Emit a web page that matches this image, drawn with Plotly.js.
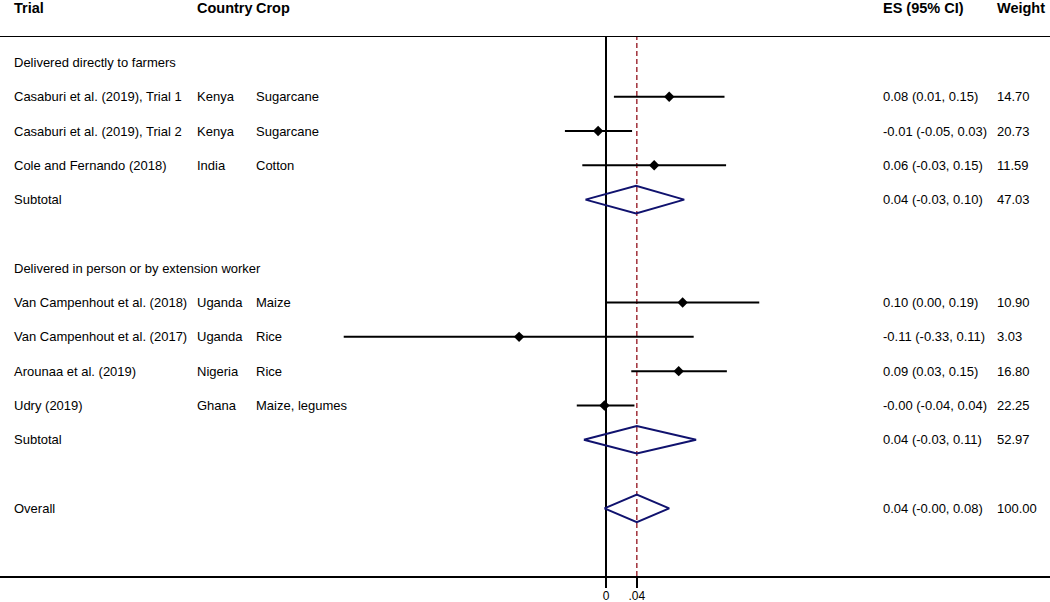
<!DOCTYPE html>
<html>
<head>
<meta charset="utf-8">
<script src="https://cdn.plot.ly/plotly-3.0.1.min.js"></script>
<style>html,body{margin:0;padding:0;background:#fff}</style>
</head>
<body>
<div id="chart" style="width:1050px;height:602px"></div>
<script>
// ---------------- data ----------------
var groupNames = ['Delivered directly to farmers', 'Delivered in person or by extension worker'];
var studyLabels = ['Casaburi et al. (2019), Trial 1', 'Casaburi et al. (2019), Trial 2', 'Cole and Fernando (2018)',
                   'Van Campenhout et al. (2018)', 'Van Campenhout et al. (2017)', 'Arounaa et al. (2019)', 'Udry (2019)'];
var studyGroup = [0, 0, 0, 1, 1, 1, 1];
var countries = ['Kenya', 'Kenya', 'India', 'Uganda', 'Uganda', 'Nigeria', 'Ghana'];
var crops = ['Sugarcane', 'Sugarcane', 'Cotton', 'Maize', 'Rice', 'Rice', 'Maize, legumes'];
var es = [0.080, -0.010, 0.061, 0.097, -0.110, 0.092, -0.002];
var ciLow = [0.010, -0.052, -0.030, 0.001, -0.332, 0.032, -0.037];
var ciHigh = [0.150, 0.033, 0.152, 0.194, 0.111, 0.153, 0.036];
var weights = [14.70, 20.73, 11.59, 10.90, 3.03, 16.80, 22.25];
var subES = [0.038, 0.039];
var subLow = [-0.026, -0.028];
var subHigh = [0.099, 0.114];
var subWeight = [47.03, 52.97];
var overallES = 0.039, overallLow = -0.002, overallHigh = 0.080, overallWeight = 100.00;
var headers = ['Trial', 'Country', 'Crop', 'ES (95% CI)', 'Weight'];
var tickVals = [0, overallES];
var tickText = ['0', '.04'];

// ---------------- layout constants ----------------
var W = 1050, H = 602;
var M = {l: 0, r: 0, t: 37, b: 26};
var colX = {trial: 14, country: 197, crop: 256, es: 883, weight: 997}; // pixel positions
var FONT = 'Liberation Sans, Arial, Helvetica, sans-serif';
var FS = 13;
var diamondHalf = 0.4;

function px2paper(px) { return (px - M.l - 2) / (W - M.l - M.r); }
function fmt(v) { return v.toFixed(2); }
function esText(e, l, h) { return fmt(e) + ' (' + fmt(l) + ', ' + fmt(h) + ')'; }

// ---------------- rows ----------------
var row = 0;
var annotations = [];
function addText(txt, col, y, bold) {
  annotations.push({
    text: bold ? '<b>' + txt + '</b>' : txt,
    x: px2paper(colX[col]), xref: 'paper', xanchor: 'left',
    y: y, yref: 'y', yanchor: 'middle',
    showarrow: false,
    font: {family: FONT, size: FS, color: '#000'}
  });
}

var ciX = [], ciY = [], ptX = [], ptY = [], dX = [], dY = [];
function addDiamond(e, l, h, r) {
  dX.push(l, e, h, e, l, null);
  dY.push(r, r - diamondHalf, r, r + diamondHalf, r, null);
}

for (var g = 0; g < groupNames.length; g++) {
  addText(groupNames[g], 'trial', row);
  row++;
  for (var i = 0; i < studyLabels.length; i++) {
    if (studyGroup[i] !== g) continue;
    addText(studyLabels[i], 'trial', row);
    addText(countries[i], 'country', row);
    addText(crops[i], 'crop', row);
    addText(esText(es[i], ciLow[i], ciHigh[i]), 'es', row);
    addText(fmt(weights[i]), 'weight', row);
    ciX.push(ciLow[i], ciHigh[i], null);
    ciY.push(row, row, null);
    ptX.push(es[i]); ptY.push(row);
    row++;
  }
  addText('Subtotal', 'trial', row);
  addText(esText(subES[g], subLow[g], subHigh[g]), 'es', row);
  addText(fmt(subWeight[g]), 'weight', row);
  addDiamond(subES[g], subLow[g], subHigh[g], row);
  row++;
  row++; // blank spacer row
}
addText('Overall', 'trial', row);
addText(esText(overallES, overallLow, overallHigh), 'es', row);
addText(fmt(overallWeight), 'weight', row);
addDiamond(overallES, overallLow, overallHigh, row);
var lastRow = row;

// header row (in top margin)
var headerCols = ['trial', 'country', 'crop', 'es', 'weight'];
var plotH = H - M.t - M.b;
for (var k = 0; k < headers.length; k++) {
  annotations.push({
    text: '<b>' + headers[k] + '</b>',
    x: px2paper(colX[headerCols[k]]), xref: 'paper', xanchor: 'left',
    y: (H - M.b - 8) / plotH, yref: 'paper', yanchor: 'middle',
    showarrow: false,
    font: {family: FONT, size: 14.5, color: '#000'}
  });
}

var traces = [
  {x: ciX, y: ciY, mode: 'lines', line: {color: '#000', width: 2}, hoverinfo: 'skip'},
  {x: ptX, y: ptY, mode: 'markers', marker: {symbol: 'diamond', size: 8, color: '#000'}},
  {x: dX, y: dY, mode: 'lines', line: {color: '#10126e', width: 2}, hoverinfo: 'skip'}
];

// axis range: 0 at pixel 606, 790 px per unit
var pxPerUnit = 790, zeroPx = 606;
var layout = {
  width: W, height: H,
  margin: M,
  showlegend: false,
  paper_bgcolor: '#fff', plot_bgcolor: '#fff',
  font: {family: FONT, size: FS, color: '#000'},
  xaxis: {
    range: [-(zeroPx - M.l) / pxPerUnit, (W - M.r - zeroPx) / pxPerUnit],
    showgrid: false,
    zeroline: true, zerolinecolor: '#000', zerolinewidth: 1.5,
    showline: true, mirror: true, linecolor: '#000', linewidth: 1.5,
    ticks: 'outside', ticklen: 10, tickwidth: 1.5, tickcolor: '#000',
    ticklabelstandoff: -2,
    tickvals: tickVals, ticktext: tickText,
    tickfont: {family: FONT, size: 12, color: '#000'}
  },
  yaxis: {
    range: [lastRow + 1.97, -0.74],
    showgrid: false, zeroline: false, showticklabels: false, showline: false, ticks: ''
  },
  shapes: [{
    type: 'line', xref: 'x', yref: 'paper',
    x0: overallES, x1: overallES, y0: 0, y1: 1,
    line: {color: '#a0303a', width: 1.5, dash: '5px,3px'},
    layer: 'below'
  }],
  annotations: annotations
};

Plotly.newPlot('chart', traces, layout, {displayModeBar: false, staticPlot: true});
</script>
</body>
</html>
